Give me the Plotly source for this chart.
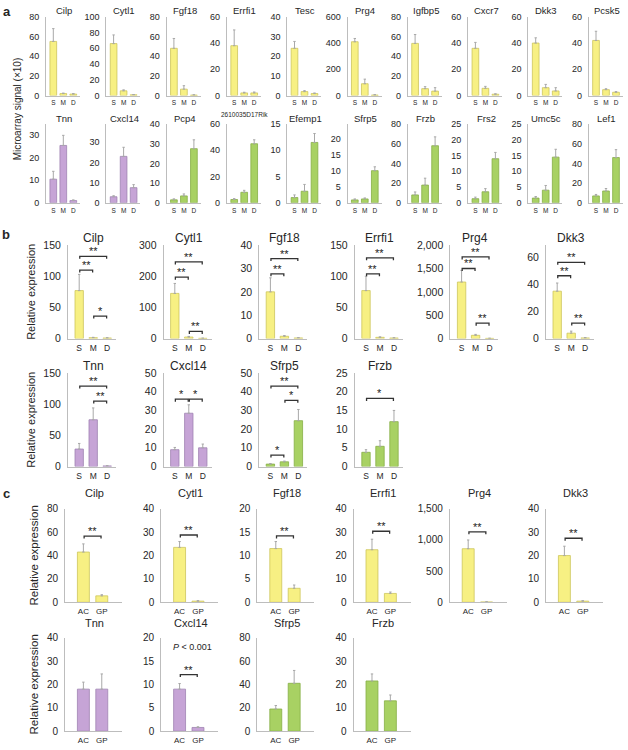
import plotly.graph_objects as go

# ---------------- data ----------------
SMD = ["S", "M", "D"]
ACGP = ["AC", "GP"]

# panel a, row 1 (superficial-zone genes), microarray signal (x10): [S, M, D]
A1_GENES = ["Cilp", "Cytl1", "Fgf18", "Errfi1", "Tesc", "Prg4", "Igfbp5", "Cxcr7", "Dkk3", "Pcsk5"]
A1_ZONE = ["S"] * 10
A1_VALUES = [[55, 2, 1.5], [66, 6, 1], [48, 6.5, 0.5], [38, 2, 2], [24, 2, 1],
             [410, 90, 4], [53, 7, 4.5], [36, 5.5, 1], [40, 6, 3.5], [42, 4.5, 2.5]]
A1_ERRORS = [[13, 0.5, 0.5], [11, 1.2, 0.3], [10, 3.5, 0.3], [12, 0.5, 0.7], [3.5, 0.5, 0.3],
             [25, 35, 3], [9, 2, 3.5], [4.5, 1.5, 0.3], [4, 2.5, 2.5], [7, 0.7, 0.5]]
A1_YMAX = [80, 100, 80, 60, 40, 600, 80, 60, 60, 60]
A1_DTICK = [20, 20, 20, 20, 10, 200, 20, 20, 20, 20]

# panel a, row 2 (middle / deep zone genes)
A2_GENES = ["Tnn", "Cxcl14", "Pcp4", "2610035D17Rik", "Efemp1", "Sfrp5", "Frzb", "Frs2", "Umc5c", "Lef1"]
A2_ZONE = ["M", "M", "D", "D", "D", "D", "D", "D", "D", "D"]
A2_VALUES = [[10.5, 25.5, 1], [3, 23, 7.5], [1.5, 3.5, 27.5], [2.5, 8, 45], [1, 2.2, 11.5],
             [0.9, 1.2, 10], [8, 18, 58], [1.3, 3.5, 14], [1.5, 4, 14.5], [7, 12, 46]]
A2_ERRORS = [[3.5, 4.5, 0.3], [0.5, 4.5, 1.5], [0.5, 1, 4.5], [0.7, 1.5, 3], [0.5, 1.3, 1.7],
             [0.3, 0.3, 1.2], [3, 7, 9], [0.5, 1, 2], [0.5, 1.5, 2.5], [1.5, 2.5, 8]]
A2_YMAX = [35, 39, 40, 60, 15, 24.5, 80, 25, 25, 80]
A2_DTICK = [10, 10, 10, 20, 5, 5, 20, 5, 5, 20]

# panel b, row 1 (qPCR relative expression)
B1_GENES = ["Cilp", "Cytl1", "Fgf18", "Errfi1", "Prg4", "Dkk3"]
B1_ZONE = ["S"] * 6
B1_VALUES = [[77, 1.5, 1], [145, 5, 1], [20, 1, 0.3], [77, 2, 1], [1210, 70, 5], [35, 4, 0.5]]
B1_ERRORS = [[26, 0.5, 0.3], [32, 2, 0.3], [6, 0.3, 0.1], [23, 0.7, 0.3], [250, 20, 3], [6, 1.5, 0.2]]
B1_YMAX = [150, 300, 40, 150, 2000, 69]
B1_DTICK = [50, 100, 10, 50, 500, 20]
B1_SIG = [[(0, 1, 110, "**"), (0, 2, 132, "**"), (1, 2, 36, "*")],
          [(0, 1, 197, "**"), (0, 2, 246, "**"), (1, 2, 23, "**")],
          [(0, 1, 27.7, "**"), (0, 2, 34.2, "**")],
          [(0, 1, 104, "**"), (0, 2, 129.5, "**")],
          [(0, 1, 1500, "**"), (0, 2, 1747, "**"), (1, 2, 330, "**")],
          [(0, 1, 46.4, "**"), (0, 2, 56.3, "**"), (1, 2, 11.4, "**")]]

# panel b, row 2
B2_GENES = ["Tnn", "Cxcl14", "Sfrp5", "Frzb"]
B2_ZONE = ["M", "M", "D", "D"]
B2_VALUES = [[28, 75, 1], [9, 28.5, 10], [1.3, 2.5, 24.5], [3.8, 5.4, 12]]
B2_ERRORS = [[9, 19, 0.3], [1.2, 4.5, 2], [0.3, 0.4, 6], [0.7, 1.5, 3]]
B2_YMAX = [150, 50, 50, 25]
B2_DTICK = [50, 10, 10, 5]
B2_SIG = [[(0, 2, 129, "**"), (1, 2, 105, "**")],
          [(0, 1, 36, "*"), (1, 2, 36, "*")],
          [(0, 1, 6.1, "*"), (1, 2, 35.4, "*"), (0, 2, 43, "**")],
          [(0, 2, 18.2, "*")]]

# panel c, row 1 (AC vs GP)
C1_GENES = ["Cilp", "Cytl1", "Fgf18", "Errfi1", "Prg4", "Dkk3"]
C1_ZONE = ["S"] * 6
C1_VALUES = [[43, 5.5], [23.5, 0.5], [11.5, 3], [22.5, 3.8], [860, 5], [20, 0.5]]
C1_ERRORS = [[7, 1], [2.5, 0.2], [1.5, 0.7], [4.5, 0.6], [140, 3], [4, 0.2]]
C1_YMAX = [80, 40, 20, 40, 1500, 40]
C1_DTICK = [20, 10, 5, 10, 500, 10]
C1_SIG = [[(0, 1, 56.7, "**")], [(0, 1, 28.8, "**")], [(0, 1, 14.2, "**")],
          [(0, 1, 30.4, "**")], [(0, 1, 1131, "**")], [(0, 1, 27.4, "**")]]

# panel c, row 2
C2_GENES = ["Tnn", "Cxcl14", "Sfrp5", "Frzb"]
C2_ZONE = ["M", "M", "D", "D"]
C2_VALUES = [[18, 18], [9, 0.8], [19, 41], [21.5, 13]]
C2_ERRORS = [[3, 6.5], [1.2, 0.15], [3, 11], [3, 2.5]]
C2_YMAX = [40, 20, 80, 40]
C2_DTICK = [10, 5, 20, 10]
C2_SIG = [[], [(0, 1, 12.1, "**")], [], []]

# ---------------- style ----------------
W, H = 628, 750
FONT = "Liberation Sans"
TXT = "#262626"
AXC = "#bdbdbd"
ERRC = "#a8a8a8"
FILL = {"S": "#f7f083", "M": "#c6a4d6", "D": "#a8d163"}
EDGE = {"S": "#cdc55c", "M": "#a083b2", "D": "#86ae45"}

fig = go.Figure()
layout = {}
shapes = []
annots = []
counter = [0]


def chart(left, width, top, bottom, xrange, cats, vals, errs, zone, ymax, dtick,
          title, title_y, title_size, tick_size, cat_size, cat_len, bw,
          brackets=(), star_size=11, btick=2.5):
    counter[0] += 1
    n = counter[0]
    sfx = "" if n == 1 else str(n)
    xs = list(range(len(cats)))
    fig.add_trace(go.Bar(
        x=xs, y=vals, xaxis="x" + sfx, yaxis="y" + sfx, width=bw,
        marker=dict(color=FILL[zone], line=dict(color=EDGE[zone], width=0.8)),
        error_y=dict(type="data", array=errs, arrayminus=[0] * len(errs), symmetric=False,
                     color=ERRC, thickness=1, width=1.2),
        showlegend=False, hoverinfo="skip"))
    layout["xaxis" + sfx] = dict(
        domain=[left / W, (left + width) / W], range=xrange, anchor="y" + sfx,
        tickmode="array", tickvals=xs, ticktext=cats, showline=True, linecolor=AXC,
        linewidth=1, ticks="outside", ticklen=cat_len, tickcolor="rgba(0,0,0,0)",
        tickfont=dict(size=cat_size, color=TXT, family=FONT), showgrid=False,
        zeroline=False, fixedrange=True)
    layout["yaxis" + sfx] = dict(
        domain=[1 - bottom / H, 1 - top / H], range=[0, ymax], anchor="x" + sfx,
        tick0=0, dtick=dtick, tickformat=",", showline=True, linecolor=AXC, linewidth=1,
        ticks="outside", ticklen=4, tickcolor="rgba(0,0,0,0)",
        tickfont=dict(size=tick_size, color=TXT, family=FONT), showgrid=False,
        zeroline=False, fixedrange=True)
    annots.append(dict(text=title, x=(left + width / 2 + 1) / W, y=1 - title_y / H,
                       xref="paper", yref="paper", showarrow=False,
                       xanchor="center", yanchor="middle",
                       font=dict(size=title_size, color=TXT, family=FONT)))
    ppu = (bottom - top) / ymax
    for (i, j, yv, lab) in brackets:
        x1, x2 = i + 0.04, j - 0.04
        d = btick / ppu
        shapes.append(dict(type="path",
                           path=f"M {x1},{yv - d} L {x1},{yv} L {x2},{yv} L {x2},{yv - d}",
                           xref="x" + sfx, yref="y" + sfx,
                           line=dict(color="#333333", width=1.3)))
        annots.append(dict(text=lab, x=(x1 + x2) / 2, y=yv, xref="x" + sfx, yref="y" + sfx,
                           showarrow=False, xanchor="center", yanchor="bottom", yshift=-3,
                           font=dict(size=star_size, color="#222222", family=FONT)))
    return sfx


# panel a
for k in range(10):
    left = 46 + 60.3 * k
    chart(left, 34, 11, 91, [-0.73, 2.67], SMD, A1_VALUES[k], A1_ERRORS[k], A1_ZONE[k],
          A1_YMAX[k], A1_DTICK[k], A1_GENES[k], 5, 9.5, 9, 6.5, 1, 0.67)
for k in range(10):
    left = 46 + 60.3 * k
    small = len(A2_GENES[k]) > 8
    chart(left, 34, 120, 200, [-0.73, 2.67], SMD, A2_VALUES[k], A2_ERRORS[k], A2_ZONE[k],
          A2_YMAX[k], A2_DTICK[k], A2_GENES[k], 110.5 if small else 114,
          6.5 if small else 9.5, 9, 6.5, 1, 0.67)

# panel b
for k in range(6):
    left = 68 + 95.6 * k
    chart(left, 48, 243, 338, [-0.8, 2.63], SMD, B1_VALUES[k], B1_ERRORS[k], B1_ZONE[k],
          B1_YMAX[k], B1_DTICK[k], B1_GENES[k], 236, 12, 10.5, 8.5, 1, 0.6, B1_SIG[k])
for k in range(4):
    left = 68 + 95.6 * k
    chart(left, 48, 373, 468, [-0.8, 2.63], SMD, B2_VALUES[k], B2_ERRORS[k], B2_ZONE[k],
          B2_YMAX[k], B2_DTICK[k], B2_GENES[k], 365.5, 12, 10.5, 8.5, 1, 0.6, B2_SIG[k])

# panel c
for k in range(6):
    left = 65 + 96.2 * k
    chart(left, 57, 511, 606, [-1.0, 2.1], ACGP, C1_VALUES[k], C1_ERRORS[k], C1_ZONE[k],
          C1_YMAX[k], C1_DTICK[k], C1_GENES[k], 495, 11, 10, 8, 1, 0.65, C1_SIG[k])
for k in range(4):
    left = 65 + 96.2 * k
    chart(left, 57, 642, 737, [-1.0, 2.1], ACGP, C2_VALUES[k], C2_ERRORS[k], C2_ZONE[k],
          C2_YMAX[k], C2_DTICK[k], C2_GENES[k], 627.5, 11, 10, 8, 1, 0.65, C2_SIG[k])


def paper_text(text, x, y, size, angle=0, bold=False):
    t = f"<b>{text}</b>" if bold else text
    annots.append(dict(text=t, x=x / W, y=1 - y / H, xref="paper", yref="paper",
                       showarrow=False, xanchor="center", yanchor="middle", textangle=angle,
                       font=dict(size=size, color=TXT, family=FONT)))


paper_text("a", 7, 6, 13, bold=True)
paper_text("b", 6, 232, 13, bold=True)
paper_text("c", 6, 495, 13, bold=True)
paper_text("Microarray signal (×10)", 17, 105, 10, angle=-90)
paper_text("Relative expression", 31, 290.5, 11, angle=-90)
paper_text("Relative expression", 31, 420.5, 11, angle=-90)
paper_text("Relative expression", 34, 558.5, 11.5, angle=-90)
paper_text("Relative expression", 34, 689.5, 11.5, angle=-90)
paper_text("<i>P</i> < 0.001", 192, 651, 9)

fig.update_layout(
    width=W, height=H, autosize=False, margin=dict(l=0, r=0, t=0, b=0),
    paper_bgcolor="white", plot_bgcolor="rgba(0,0,0,0)", bargap=0,
    shapes=shapes, annotations=annots, **layout)

fig.write_html("out.html", config={"displayModeBar": False, "staticPlot": True},
               post_script="document.body.style.margin='0';document.body.style.padding='0';")
